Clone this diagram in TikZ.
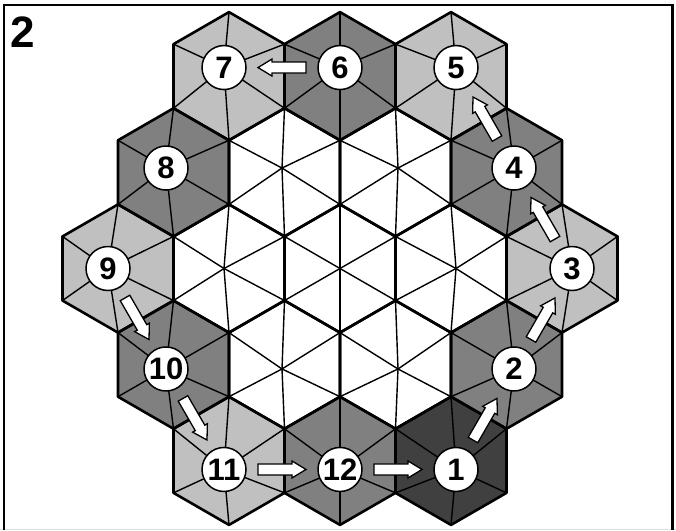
\documentclass[tikz,border=0pt]{standalone}
\usepackage{fontspec}
\setmainfont{Liberation Sans}
\usetikzlibrary{calc}
\definecolor{lt}{HTML}{C0C0C0}
\definecolor{md}{HTML}{808080}
\definecolor{dk}{HTML}{404040}
\newcommand\blockarrow[2]{%
  \draw[barr] let \p1=($(#2)-(#1)$), \n1={atan2(\y1,\x1)}, \p2=($(#1)!0.5!(#2)$) in
   ($(\p2)+(\n1:-24pt)+(\n1+90:5.5pt)$) -- ($(\p2)+(\n1:10pt)+(\n1+90:5.5pt)$)
   -- ($(\p2)+(\n1:10pt)+(\n1+90:8.5pt)$) -- ($(\p2)+(\n1:24pt)$)
   -- ($(\p2)+(\n1:10pt)+(\n1-90:8.5pt)$) -- ($(\p2)+(\n1:10pt)+(\n1-90:5.5pt)$)
   -- ($(\p2)+(\n1:-24pt)+(\n1-90:5.5pt)$) -- cycle;}
\begin{document}
\begin{tikzpicture}[x=1pt,y=-1pt,
  hexedge/.style={line width=2.6pt,line join=round},
  spoke/.style={line width=1.4pt,line cap=round},
  numcirc/.style={circle,draw,line width=1.5pt,fill=white,minimum size=44pt,inner sep=0pt,
    font=\bfseries\fontsize{31}{31}\selectfont},
  barr/.style={draw,line width=1.3pt,fill=white,line join=miter},
  outerframe/.style={line width=2.7pt}]
\useasboundingbox (0,0) rectangle (676,530);
\fill[white] (0,0) rectangle (676,530);
\def\S{64.1}
\def\K{1.045}
\coordinate (C) at (340,268.5);
\def\outerhex{111/192.3/dk/1,166.5/96.15/md/2,222/0/lt/3,166.5/-96.15/md/4,111/-192.3/lt/5,0/-192.3/md/6,-111/-192.3/lt/7,-166.5/-96.15/md/8,-222/0/lt/9,-166.5/96.15/md/10,-111/192.3/lt/11,0/192.3/md/12}
\def\innerhex{0/0,111/0,-111/0,55.5/96.15,-55.5/96.15,55.5/-96.15,-55.5/-96.15}
% fills
\foreach \dx/\dy/\col/\lab in \outerhex
  \fill[\col] ($(C)+(\dx,\dy)+(30:\S)$) -- ($(C)+(\dx,\dy)+(90:\S)$) -- ($(C)+(\dx,\dy)+(150:\S)$)
   -- ($(C)+(\dx,\dy)+(210:\S)$) -- ($(C)+(\dx,\dy)+(270:\S)$) -- ($(C)+(\dx,\dy)+(330:\S)$) -- cycle;
% spokes
\foreach \dx/\dy/\col/\lab in \outerhex {
  \foreach \a in {30,90,150,210,270,330}
    \draw[spoke] ($(C)+\K*(\dx,\dy)$) -- ($(C)+(\dx,\dy)+(\a:\S)$);
}
\foreach \dx/\dy in \innerhex {
  \foreach \a in {30,90,150,210,270,330}
    \draw[spoke] ($(C)+\K*(\dx,\dy)$) -- ($(C)+(\dx,\dy)+(\a:\S)$);
}
% hexagon edges
\foreach \dx/\dy/\col/\lab in \outerhex
  \draw[hexedge] ($(C)+(\dx,\dy)+(30:\S)$) -- ($(C)+(\dx,\dy)+(90:\S)$) -- ($(C)+(\dx,\dy)+(150:\S)$)
   -- ($(C)+(\dx,\dy)+(210:\S)$) -- ($(C)+(\dx,\dy)+(270:\S)$) -- ($(C)+(\dx,\dy)+(330:\S)$) -- cycle;
\foreach \dx/\dy in \innerhex
  \draw[hexedge] ($(C)+(\dx,\dy)+(30:\S)$) -- ($(C)+(\dx,\dy)+(90:\S)$) -- ($(C)+(\dx,\dy)+(150:\S)$)
   -- ($(C)+(\dx,\dy)+(210:\S)$) -- ($(C)+(\dx,\dy)+(270:\S)$) -- ($(C)+(\dx,\dy)+(330:\S)$) -- cycle;
% numbered circles
\foreach \dx/\dy/\col/\lab in \outerhex
  \node[numcirc] (c\lab) at ($(C)+\K*(\dx,\dy)$) {\lab};
% arrows
\blockarrow{c12}{c1}
\blockarrow{c1}{c2}
\blockarrow{c2}{c3}
\blockarrow{c3}{c4}
\blockarrow{c4}{c5}
\blockarrow{c6}{c7}
\blockarrow{c9}{c10}
\blockarrow{c10}{c11}
\blockarrow{c11}{c12}
% frame and label
\draw[black!12,line width=1pt] (0,529) -- (676,529);
\draw[outerframe] (4,530) -- (4,5) -- (672.5,5) -- (672.5,530);
\node[font=\bfseries\fontsize{44}{44}\selectfont,anchor=base west,inner sep=0pt] (lbl) at (10.5,47) {2};
\end{tikzpicture}
\end{document}
